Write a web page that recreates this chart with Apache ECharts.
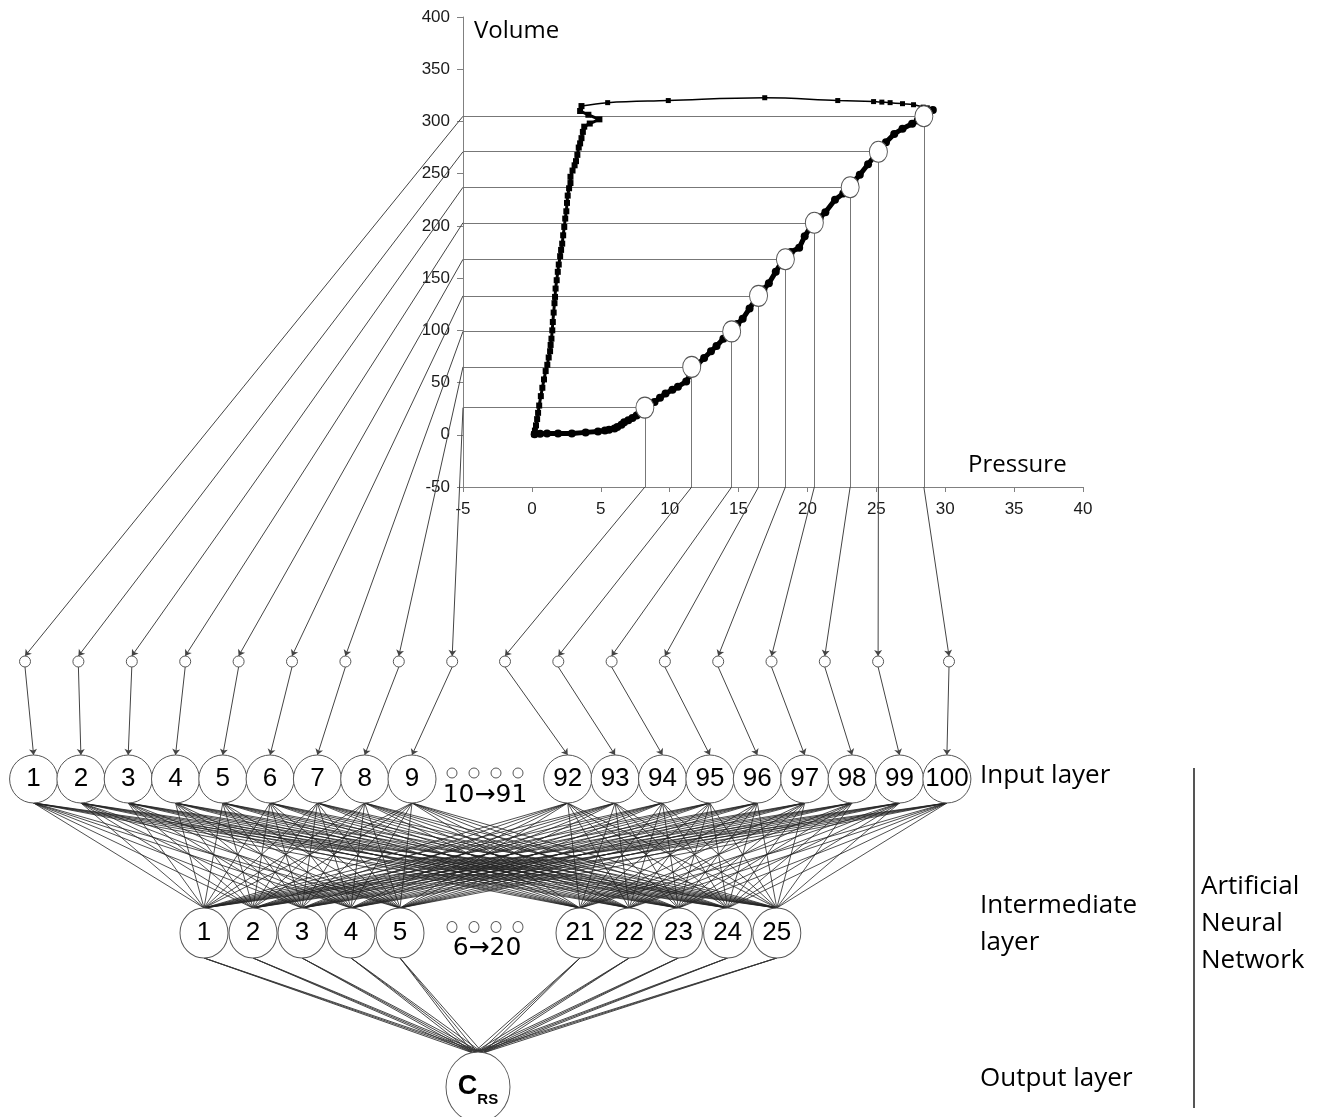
<!DOCTYPE html>
<html><head><meta charset="utf-8">
<script src="https://cdn.jsdelivr.net/npm/echarts@6/dist/echarts.min.js"></script>
<style>html,body{margin:0;padding:0;background:#fff}#c{width:1325px;height:1117px}</style>
</head><body><div id="c"></div>
<script>
// ---------- DATA ----------
// inspiratory limb (pressure, volume)
const inspP = [0.2,0.6,1.1,1.9,2.9,3.9,4.8,5.3,5.6,6.0,6.2,6.5,6.7,7.0,7.3,7.6,7.8,8.2,8.5,8.9,9.3,9.7,10.2,10.6,11.2,11.6,12.0,12.5,13.0,13.4,13.9,14.4,14.9,15.3,15.8,16.4,16.8,17.2,17.7,18.25,18.8,19.4,19.8,20.4,20.9,21.3,22.0,22.6,22.9,23.4,23.8,24.4,25.1,25.7,26.3,26.9,27.6,28.0,28.4,28.8,29.1];
const inspV = [0.5,1,1.3,1.3,1.3,2.3,3.2,4,4.8,6,7.5,9.5,12,14,16,18.5,20.5,26,28.5,31.5,35.5,39.5,43,46,51,60,67,73.5,80,85,92,98.7,106,111,121,133,139,145,156,168,175,179,190,202.6,208,213,225,231,236.7,243,249,259,270.8,280,288,293,297.7,301,305,309,311];
// end-inspiratory plateau (top limb)
const topP = [29.1,28.7,28.4,27.7,26.9,26.0,25.4,24.8,22.2,16.9,9.9,5.5,3.6];
const topV = [311,313,313.7,316,317,318,318.5,319,320,322.7,320,318,314.7];
// expiratory limb
const expP = [3.6,3.5,4.1,4.9,4.2,3.8,3.7,3.6,3.5,3.4,3.3,3.2,3.1,2.95,2.8,2.8,2.7,2.6,2.55,2.5,2.42,2.35,2.27,2.2,2.12,2.05,1.95,1.88,1.8,1.72,1.68,1.64,1.58,1.52,1.48,1.42,1.36,1.32,1.22,1.12,1.0,0.88,0.76,0.65,0.53,0.45,0.38,0.3,0.22,0.16];
const expV = [314.7,310,306.4,302,298,295,290,284,279,275,268,262,258,253,247,241,236,229,222,214,207,199,191,183,177,171,163,156,148,140,132,126,117,108,100,92,86,80,74,67,61,53,45,37,28,21,15,9,4,0.6];
// sampled points fed to the network
const sampleP = [8.2,11.6,14.5,16.45,18.4,20.5,23.1,25.15,28.45];
const sampleV = [26,65,99,133,168,203,237,271,305];
// node labels
const inputLeftIds = ['1','2','3','4','5','6','7','8','9'];
const inputRightIds = ['92','93','94','95','96','97','98','99','100'];
const hiddenLeftIds = ['1','2','3','4','5'];
const hiddenRightIds = ['21','22','23','24','25'];
const inputGapText = '10\u219291';
const hiddenGapText = '6\u219220';
const layerNames = ['Input layer','Intermediate','layer','Output layer'];
const groupNames = ['Artificial','Neural','Network'];
const axisNames = ['Pressure','Volume'];

// ---------- LAYOUT ----------
const smallY = 661.5;
const smallLeftX = inputLeftIds.map((_, i) => 25 + i * 53.4);
const smallRightX = inputRightIds.map((_, i) => i < 8 ? 505 + i * 53.3 : 949);
const bigY = 779, bigR = 24;
const bigLeftX = inputLeftIds.map((_, i) => 33.6 + i * 47.3);
const bigRightX = inputRightIds.map((_, i) => 567.7 + i * 47.4);
const hidY = 933, hidRY = 25;
const hidLeftX = hiddenLeftIds.map((_, i) => 204 + i * 49);
const hidRightX = hiddenRightIds.map((_, i) => 580 + i * 49.2);
const outX = 478, outY = 1087, outRY = 35;
const FONT = 'Arial, "Liberation Sans", sans-serif';

const chart = echarts.init(document.getElementById('c'));
const axisColor = '#808080';
const base = {
  animation: false,
  backgroundColor: '#fff',
  grid: [
    {left: 463, top: 17, width: 620, height: 470},
    {left: 0, top: 0, width: 1325, height: 1117}
  ],
  xAxis: [
    {gridIndex: 0, type: 'value', min: -5, max: 40, interval: 5,
     axisLine: {onZero: false, lineStyle: {color: axisColor, width: 1}},
     axisTick: {length: 5, lineStyle: {color: axisColor}},
     axisLabel: {margin: 14, color: '#1a1a1a', fontSize: 17, fontFamily: FONT},
     splitLine: {show: false}},
    {gridIndex: 1, type: 'value', min: 0, max: 1325, show: false}
  ],
  yAxis: [
    {gridIndex: 0, type: 'value', min: -50, max: 400, interval: 50,
     axisLine: {show: true, onZero: false, lineStyle: {color: axisColor, width: 1}},
     axisTick: {show: true, length: 6, lineStyle: {color: axisColor}},
     axisLabel: {margin: 13, color: '#1a1a1a', fontSize: 17, fontFamily: FONT},
     splitLine: {show: false}},
    {gridIndex: 1, type: 'value', min: 0, max: 1117, inverse: true, show: false}
  ]
};
chart.setOption(base);

const toPx = (p, v) => chart.convertToPixel({gridIndex: 0}, [p, v]);
const toLay = (pt) => chart.convertFromPixel({gridIndex: 1}, pt);
const zip = (a, b) => a.map((x, i) => [x, b[i]]);

// guides inside the PV chart
const guides = [];
sampleP.forEach((p, i) => {
  const v = sampleV[i];
  guides.push({coords: [[-5, v], [p, v]]});
  guides.push({coords: [[p, v], [p, -50]]});
});

// connectors from chart to small input nodes
const leftConn = [], rightConn = [];
const nS = sampleV.length;
for (let k = 0; k < nS; k++) {
  const si = nS - 1 - k; // node 1 <- highest volume
  leftConn.push({coords: [toLay(toPx(-5, sampleV[si])), toLay([smallLeftX[k], smallY - 5.5])]});
  rightConn.push({coords: [toLay(toPx(sampleP[k], -50)), toLay([smallRightX[k], smallY - 5.5])]});
}
const smallX = smallLeftX.concat(smallRightX);
const bigX = bigLeftX.concat(bigRightX);
const hidX = hidLeftX.concat(hidRightX);
const smallToBig = smallX.map((x, i) => ({coords: [toLay([x, smallY + 5.5]), toLay([bigX[i], bigY - bigR])]}));
const bigToHid = [];
bigX.forEach(bx => hidX.forEach(hx => bigToHid.push({coords: [toLay([bx, bigY + bigR]), toLay([hx, hidY - hidRY])]})));
const hidToOut = [];
hidX.forEach(hx => [-5, 0, 5].forEach(o => hidToOut.push({coords: [toLay([hx, hidY + hidRY]), toLay([outX + o, outY - outRY + 1])]})));

const nodeStyle = {color: '#fff', borderColor: '#555', borderWidth: 1, opacity: 1};
const numLabel = {show: true, position: 'inside', formatter: '{b}', color: '#000', fontSize: 26, fontFamily: FONT};
const linesS = (data, color, width, arrow, z) => ({
  type: 'lines', coordinateSystem: 'cartesian2d', xAxisIndex: 1, yAxisIndex: 1,
  symbol: arrow ? ['none', 'arrow'] : ['none', 'none'], symbolSize: 6,
  lineStyle: {color: color, width: width, opacity: 1, curveness: 0}, data: data, z: z, silent: true
});
const nodeS = (ids, xs, y, size, z, label) => ({
  type: 'scatter', xAxisIndex: 1, yAxisIndex: 1, symbol: 'circle', symbolSize: size,
  itemStyle: nodeStyle, label: label || {show: false}, z: z, silent: true,
  data: ids.map((id, i) => ({name: id, value: toLay([xs[i], y])}))
});

const series = [
  {type: 'lines', coordinateSystem: 'cartesian2d', xAxisIndex: 0, yAxisIndex: 0, silent: true,
   lineStyle: {color: '#777', width: 1, opacity: 1}, data: guides, z: 2},
  {type: 'line', xAxisIndex: 0, yAxisIndex: 0, data: zip(inspP, inspV), symbol: 'circle', symbolSize: 8,
   itemStyle: {color: '#000', opacity: 1}, lineStyle: {color: '#000', width: 5}, z: 5, silent: true},
  {type: 'line', xAxisIndex: 0, yAxisIndex: 0, data: zip(topP, topV), symbol: 'rect', symbolSize: 5, smooth: 0.4,
   itemStyle: {color: '#000', opacity: 1}, lineStyle: {color: '#000', width: 1.5}, z: 5, silent: true},
  {type: 'line', xAxisIndex: 0, yAxisIndex: 0, data: zip(expP, expV), symbol: 'rect', symbolSize: 6,
   itemStyle: {color: '#000', opacity: 1}, lineStyle: {color: '#000', width: 3}, z: 5, silent: true},
  {type: 'scatter', xAxisIndex: 0, yAxisIndex: 0, data: zip(sampleP, sampleV), symbol: 'circle', symbolSize: [18, 21],
   itemStyle: {color: '#fff', borderColor: '#555', borderWidth: 1, opacity: 1}, z: 6, silent: true},
  linesS(leftConn, '#444', 1, true, 2),
  linesS(rightConn, '#444', 1, true, 2),
  linesS(smallToBig, '#444', 1, true, 2),
  linesS(bigToHid, '#222', 0.8, false, 1),
  linesS(hidToOut, '#333', 0.9, false, 1),
  nodeS(inputLeftIds.concat(inputRightIds), smallX, smallY, [11, 11], 4),
  nodeS(inputLeftIds.concat(inputRightIds), bigX, bigY, [48, 48], 4, numLabel),
  nodeS(hiddenLeftIds.concat(hiddenRightIds), hidX, hidY, [48, 50], 4, numLabel),
  nodeS(['a','b','c','d'], [452, 474, 496, 518], 773, [10, 10], 4),
  nodeS(['e','f','g','h'], [452, 474, 496, 518], 927, [10, 11], 4),
  {type: 'scatter', xAxisIndex: 1, yAxisIndex: 1, symbol: 'circle', symbolSize: [64, 70], itemStyle: nodeStyle, z: 4, silent: true,
   data: [{name: 'CRS', value: toLay([outX, outY])}],
   label: {show: true, position: 'inside', formatter: '{c|C}{s|RS}',
     rich: {c: {fontSize: 27, fontWeight: 'bold', fontFamily: FONT, color: '#000', lineHeight: 30, verticalAlign: 'middle'},
            s: {fontSize: 15, fontWeight: 'bold', fontFamily: FONT, color: '#000', lineHeight: 15, verticalAlign: 'bottom', padding: [0, 0, -5, 0]}}}}
];

const txt = (text, x, y, font, align) => ({type: 'text', x: x, y: y, z: 10,
  style: {text: text, fill: '#000', font: font, align: align || 'left', verticalAlign: 'middle'}});
const ofont = '26px "Open Sans"';
const graphic = [
  txt(axisNames[1], 474, 31, '24px "Open Sans"'),
  txt(axisNames[0], 968, 465, '24px "Open Sans"'),
  txt(inputGapText, 485, 795, '25px "DejaVu Sans"', 'center'),
  txt(hiddenGapText, 487, 948, '25px "DejaVu Sans"', 'center'),
  txt(layerNames[0], 980, 776, ofont),
  txt(layerNames[1], 980, 906, ofont),
  txt(layerNames[2], 980, 943, ofont),
  txt(layerNames[3], 980, 1079, ofont),
  txt(groupNames[0], 1201, 887, ofont),
  txt(groupNames[1], 1201, 924, ofont),
  txt(groupNames[2], 1201, 961, ofont),
  {type: 'line', z: 10, shape: {x1: 1194, y1: 768, x2: 1194, y2: 1108}, style: {stroke: '#555', lineWidth: 2}}
];

chart.setOption({series: series, graphic: graphic});
</script>
</body></html>
